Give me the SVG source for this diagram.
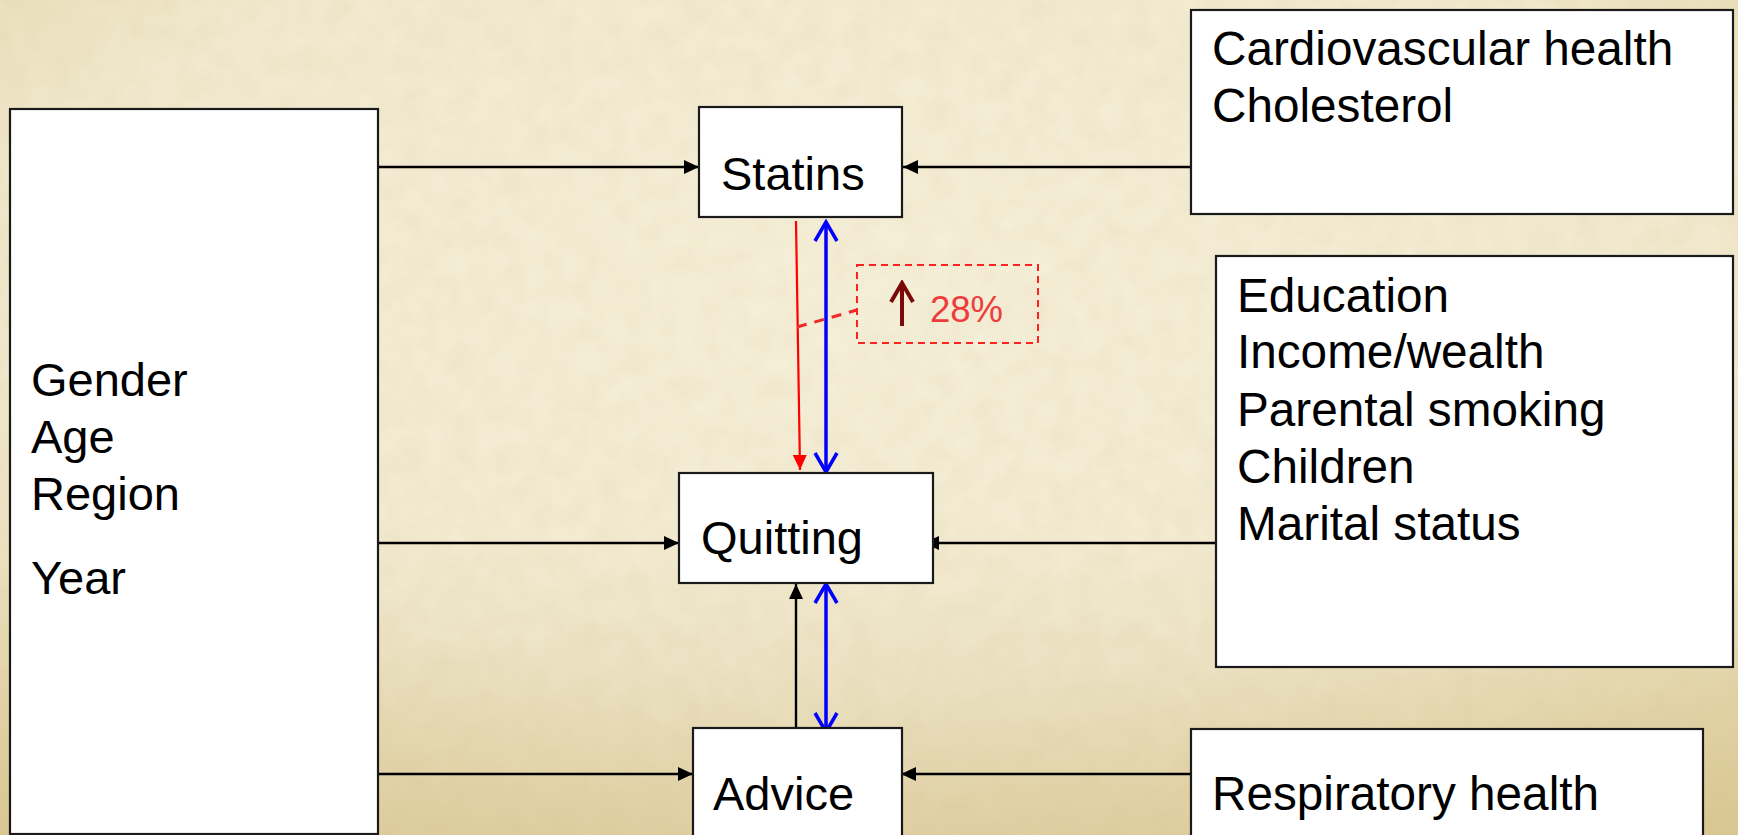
<svg xmlns="http://www.w3.org/2000/svg" width="1738" height="835" viewBox="0 0 1738 835">
  <defs>
    <radialGradient id="bg" cx="0.5" cy="0.35" r="0.8">
      <stop offset="0" stop-color="#f6f0da"/>
      <stop offset="0.6" stop-color="#f2ead0"/>
      <stop offset="1" stop-color="#e2d3a3"/>
    </radialGradient>
    <linearGradient id="shade" x1="0" y1="0" x2="0" y2="1">
      <stop offset="0.65" stop-color="#c8ad70" stop-opacity="0"/>
      <stop offset="1" stop-color="#c8ad70" stop-opacity="0.3"/>
    </linearGradient>
    <filter id="grain" x="0" y="0" width="100%" height="100%">
      <feTurbulence type="fractalNoise" baseFrequency="0.04" numOctaves="4" seed="7" result="n"/>
      <feColorMatrix type="matrix" values="0 0 0 0 0.6  0 0 0 0 0.5  0 0 0 0 0.25  0 0 0 0.18 -0.03"/>
    </filter>
    <marker id="ah" markerUnits="userSpaceOnUse" markerWidth="15" markerHeight="14" refX="15" refY="7" orient="auto">
      <path d="M0,0 L15,7 L0,14 z" fill="#000"/>
    </marker>
    <marker id="ahr" markerUnits="userSpaceOnUse" markerWidth="15" markerHeight="14" refX="15" refY="7" orient="auto">
      <path d="M0,0 L15,7 L0,14 z" fill="#ff0000"/>
    </marker>
    <marker id="ahb" markerUnits="userSpaceOnUse" markerWidth="24" markerHeight="26" refX="21" refY="13" orient="auto-start-reverse">
      <path d="M2,2 L21,13 L2,24" fill="none" stroke="#0000ff" stroke-width="3.5"/>
    </marker>
    <marker id="ahd" markerUnits="userSpaceOnUse" markerWidth="24" markerHeight="26" refX="21" refY="13" orient="auto">
      <path d="M2,2 L21,13 L2,24" fill="none" stroke="#7a0a0a" stroke-width="4"/>
    </marker>
  </defs>
  <style>
    .box { fill: #ffffff; stroke: #1a1a1a; stroke-width: 2.2; }
    .t { font-family: "Liberation Sans", Arial, sans-serif; fill: #000; font-size: 47px; }
    .tr { font-size: 47.7px; }
    .conn { stroke: #000; stroke-width: 2.4; fill: none; }
    .blue { stroke: #0000ff; stroke-width: 3.5; fill: none; }
  </style>

  <rect x="0" y="0" width="1738" height="835" fill="url(#bg)"/>
  <rect x="0" y="0" width="1738" height="835" filter="url(#grain)"/>
  <rect x="0" y="0" width="1738" height="835" fill="url(#shade)"/>

  <g id="connectors">
    <line class="conn" x1="378" y1="167" x2="699" y2="167" marker-end="url(#ah)"/>
    <line class="conn" x1="1191" y1="167" x2="903" y2="167" marker-end="url(#ah)"/>
    <line class="conn" x1="378" y1="543" x2="679" y2="543" marker-end="url(#ah)"/>
    <line class="conn" x1="1216" y1="543" x2="924" y2="543" marker-end="url(#ah)"/>
    <line class="conn" x1="378" y1="774" x2="693" y2="774" marker-end="url(#ah)"/>
    <line class="conn" x1="1191" y1="774" x2="901" y2="774" marker-end="url(#ah)"/>
    <line class="conn" x1="796" y1="728" x2="796" y2="584" marker-end="url(#ah)"/>
    <line x1="796" y1="221" x2="800" y2="470" stroke="#ff0000" stroke-width="2.2" marker-end="url(#ahr)"/>
    <line class="blue" x1="826" y1="222" x2="826" y2="472" marker-start="url(#ahb)" marker-end="url(#ahb)"/>
    <line class="blue" x1="826" y1="584" x2="826" y2="732" marker-start="url(#ahb)" marker-end="url(#ahb)"/>
    <line x1="797" y1="327" x2="857" y2="310" stroke="#ee2a2a" stroke-width="3" stroke-dasharray="10 8"/>
  </g>

  <g id="demographics">
    <rect class="box" x="10" y="109" width="368" height="725"/>
    <text class="t" x="31" y="396">Gender</text>
    <text class="t" x="31" y="453">Age</text>
    <text class="t" x="31" y="510">Region</text>
    <text class="t" x="31" y="594">Year</text>
  </g>

  <g id="statins">
    <rect class="box" x="699" y="107" width="203" height="110"/>
    <text class="t" x="721" y="190">Statins</text>
  </g>

  <g id="quitting">
    <rect class="box" x="679" y="473" width="254" height="110"/>
    <text class="t" x="701" y="554">Quitting</text>
  </g>

  <g id="advice">
    <rect class="box" x="693" y="728" width="209" height="120"/>
    <text class="t" x="713" y="810">Advice</text>
  </g>

  <g id="cardio">
    <rect class="box" x="1191" y="10" width="542" height="204"/>
    <text class="t tr" x="1212" y="65">Cardiovascular health</text>
    <text class="t tr" x="1212" y="122">Cholesterol</text>
  </g>

  <g id="socio">
    <rect class="box" x="1216" y="256" width="517" height="411"/>
    <text class="t tr" x="1237" y="312">Education</text>
    <text class="t tr" x="1237" y="368">Income/wealth</text>
    <text class="t tr" x="1237" y="426">Parental smoking</text>
    <text class="t tr" x="1237" y="483">Children</text>
    <text class="t tr" x="1237" y="540">Marital status</text>
  </g>

  <g id="respiratory">
    <rect class="box" x="1191" y="729" width="512" height="120"/>
    <text class="t tr" x="1212" y="810">Respiratory health</text>
  </g>

  <g id="effect">
    <rect x="857" y="265" width="181" height="78" fill="none" stroke="#ff2020" stroke-width="2" stroke-dasharray="7 5"/>
    <line x1="902" y1="326" x2="902" y2="283" stroke="#7a0a0a" stroke-width="4" marker-end="url(#ahd)"/>
    <text x="930" y="322" font-family="Liberation Sans, Arial, sans-serif" font-size="36.5" fill="#ee3b3b">28%</text>
  </g>
</svg>
